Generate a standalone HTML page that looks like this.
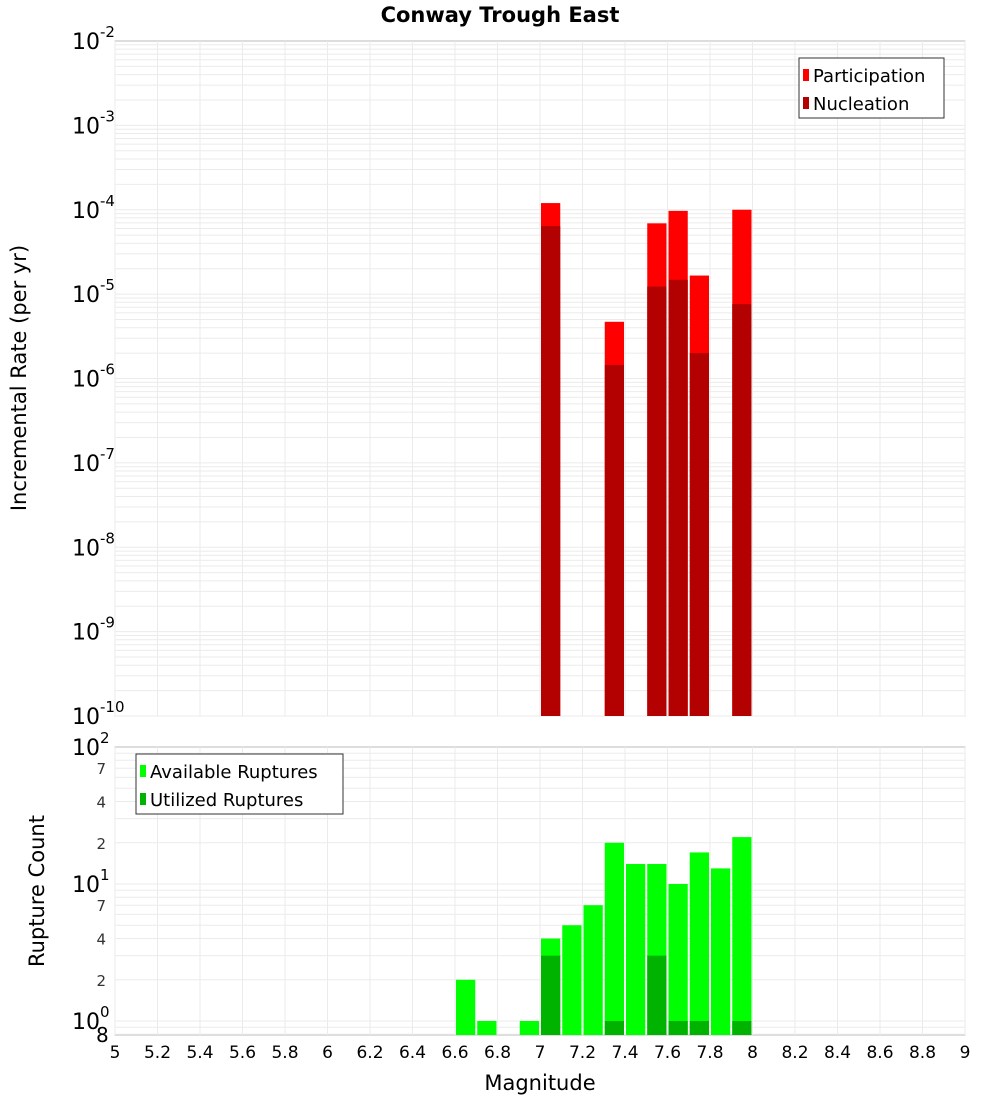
<!DOCTYPE html>
<html><head><meta charset="utf-8"><style>body{margin:0;background:#fff}svg{display:block;font-family:"DejaVu Sans","Liberation Sans",sans-serif}</style></head>
<body>
<svg id="c" width="1000" height="1100"></svg>
<script>
const mags=[7.05,7.35,7.55,7.65,7.75,7.95];
const participation=[1.2e-4,4.7e-6,6.9e-5,9.7e-5,1.66e-5,1.0e-4];
const nucleation=[6.4e-5,1.45e-6,1.23e-5,1.48e-5,2.0e-6,7.6e-6];
const cntMags=[6.65,6.75,6.95,7.05,7.15,7.25,7.35,7.45,7.55,7.65,7.75,7.85,7.95];
const available=[2,1,1,4,5,7,20,14,14,10,17,13,22];
const utilMags=[7.05,7.35,7.55,7.65,7.75,7.95];
const utilized=[3,1,3,1,1,1];
const xTicks=[5,5.2,5.4,5.6,5.8,6,6.2,6.4,6.6,6.8,7,7.2,7.4,7.6,7.8,8,8.2,8.4,8.6,8.8,9];

const S='http://www.w3.org/2000/svg',svg=document.getElementById('c');
function el(t,a,p){const e=document.createElementNS(S,t);for(const k in a)e.setAttribute(k,a[k]);(p||svg).appendChild(e);return e;}
const L=115,R=965,T1=41,B1=716,T2=747,B2=1035;
const x=m=>L+(m-5)/4*(R-L);
const y1=v=>T1+(-2-Math.log10(v))*(B1-T1)/8;
const y2=v=>T2+(2-Math.log10(v))*137;
// frames and grid
el('rect',{x:L,y:T1,width:R-L,height:B1-T1,fill:'#fff',stroke:'#bbb'});
el('rect',{x:L,y:T2,width:R-L,height:B2-T2,fill:'#fff',stroke:'#bbb'});
const g=el('g',{stroke:'#ebebeb','stroke-width':1});

xTicks.forEach(t=>{el('line',{x1:x(t),x2:x(t),y1:T1,y2:B1},g);el('line',{x1:x(t),x2:x(t),y1:T2,y2:B2},g);});
for(let e=-10;e<-2;e++)for(let k=1;k<10;k++){const yy=y1(k*Math.pow(10,e));el('line',{x1:L,x2:R,y1:yy,y2:yy},g);}
for(let e=-1;e<2;e++)for(let k=1;k<10;k++){const v=k*Math.pow(10,e);if(v<0.8)continue;const yy=y2(v);el('line',{x1:L,x2:R,y1:yy,y2:yy},g);}
// bars
const bw=(R-L)/40-2;
mags.forEach((m,i)=>{
 let r=el('rect',{x:x(m)-bw/2,y:y1(participation[i]),width:bw,height:B1-y1(participation[i]),fill:'#ff0000'});
 
 r=el('rect',{x:x(m)-bw/2,y:y1(nucleation[i]),width:bw,height:B1-y1(nucleation[i]),fill:'#b30000'});
 
});
cntMags.forEach((m,i)=>{
 const r=el('rect',{x:x(m)-bw/2,y:y2(available[i]),width:bw,height:B2-y2(available[i]),fill:'#00ff00'});
 
});
utilMags.forEach((m,i)=>{
 const r=el('rect',{x:x(m)-bw/2,y:y2(utilized[i]),width:bw,height:B2-y2(utilized[i]),fill:'#00b300'});
 
});
// x ticks
xTicks.forEach(t=>{const tx=el('text',{x:x(t),y:1058,'text-anchor':'middle','font-size':17});tx.textContent=String(t);
 });
// top y labels
for(let e=-2;e>=-10;e--){const yy=y1(Math.pow(10,e));
 const t=el('text',{x:72,y:yy+8,'font-size':22});
 t.innerHTML='10<tspan dy="-12" font-size="15">'+e+'</tspan>';}
// bottom y labels
[[100,'10','2'],[10,'10','1'],[1,'10','0']].forEach(a=>{const yy=y2(a[0]);
 const t=el('text',{x:72,y:yy+8,'font-size':22});
 t.innerHTML=a[1]+'<tspan dy="-12" font-size="15">'+a[2]+'</tspan>';});
[70,40,20,7,4,2].forEach(v=>{const t=el('text',{x:106,y:y2(v)+6,'font-size':15,'text-anchor':'end',fill:'#333'});t.textContent=String(v).charAt(0);
 });
let t=el('text',{x:96,y:1042,'font-size':20});t.textContent='8';
// titles
t=el('text',{x:500,y:22,'text-anchor':'middle','font-size':21,'font-weight':'bold'});t.textContent='Conway Trough East';
t=el('text',{x:540,y:1090,'text-anchor':'middle','font-size':21});t.textContent='Magnitude';
t=el('text',{x:0,y:0,'text-anchor':'middle','font-size':21,transform:'translate(26,378) rotate(-90)'});t.textContent='Incremental Rate (per yr)';
t=el('text',{x:0,y:0,'text-anchor':'middle','font-size':21,transform:'translate(44,891) rotate(-90)'});t.textContent='Rupture Count';
// legends
function legend(x0,y0,w,items,name){const lg=el('g',{});
 el('rect',{x:x0,y:y0,width:w,height:60,fill:'#fff',stroke:'#333'},lg);
 items.forEach((it,i)=>{el('rect',{x:x0+4,y:y0+11+i*28,width:6,height:12,fill:it[1]},lg);
  const tt=el('text',{x:x0+14,y:y0+24+i*28,'font-size':18},lg);tt.textContent=it[0];});}
legend(799,58,145,[['Participation','#ff0000'],['Nucleation','#b30000']],'top-legend');
legend(136,754,207,[['Available Ruptures','#00ff00'],['Utilized Ruptures','#00b300']],'bottom-legend');
</script>
</body></html>
